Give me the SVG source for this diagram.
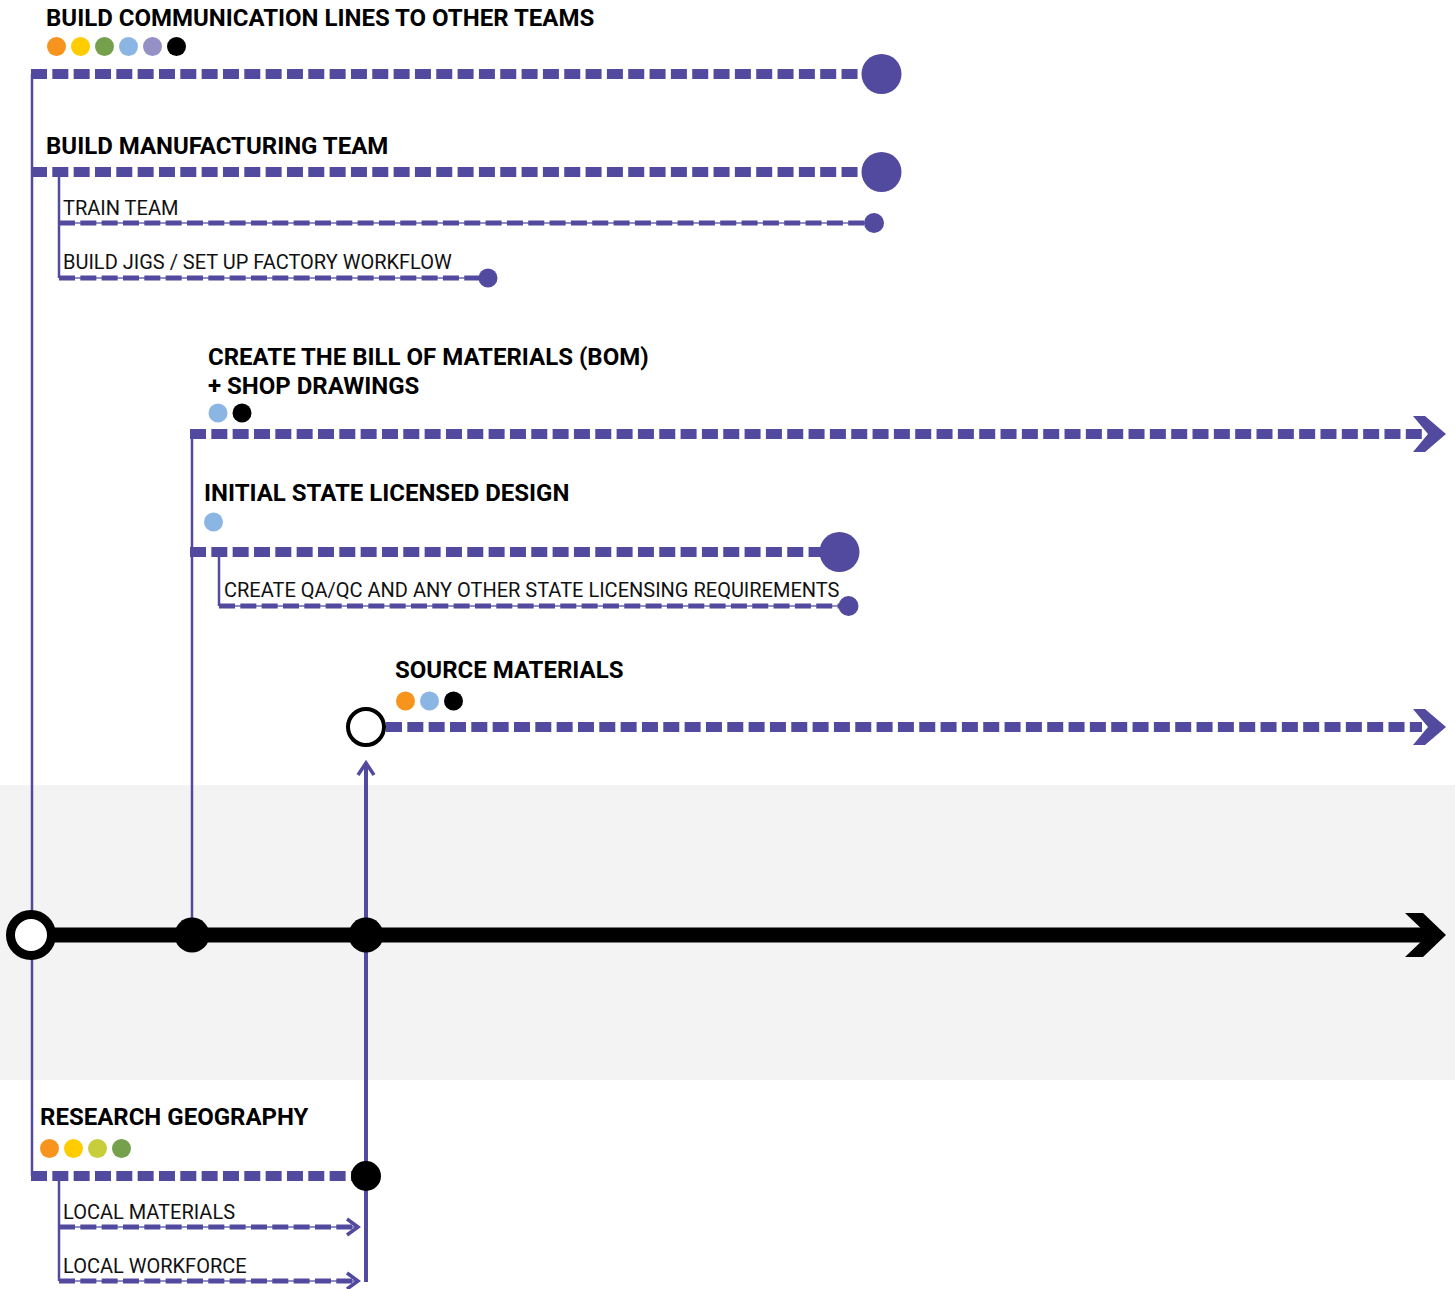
<svg xmlns="http://www.w3.org/2000/svg" width="1455" height="1289" viewBox="0 0 1455 1289">
<defs>
<style>
.h{font-family:Roboto,"Liberation Sans",sans-serif;font-weight:bold;font-size:24px;fill:#000}
.t{font-family:Roboto,"Liberation Sans",sans-serif;font-size:20px;fill:#111}
.big{stroke:#524A9E;stroke-width:10;stroke-dasharray:16 5.33;fill:none}
.thin{stroke:#524A9E;stroke-width:5;stroke-dasharray:16 5.33;fill:none}
.hair{stroke:#6E68B0;stroke-width:1.5;fill:none}
.v{stroke:#524A9E;stroke-width:2.5;fill:none}
.pf{fill:#524A9E}
.or{fill:#F7941D}.ye{fill:#FFCC00}.gr{fill:#76A04B}.lb{fill:#8BB6E3}.lv{fill:#9590C6}.bk{fill:#000}.yg{fill:#C8CE3A}
.chev{stroke:#524A9E;stroke-width:3.5;fill:none}
</style>
</defs>
<rect x="0" y="785" width="1455" height="295" fill="#F3F3F3"/>
<g id="connectors">
<line class="v" x1="32" y1="74" x2="32" y2="1176"/>
<line class="v" x1="59" y1="172" x2="59" y2="278"/>
<line class="v" x1="192" y1="434" x2="192" y2="935"/>
<line class="v" x1="219" y1="552" x2="219" y2="606"/>
<line class="v" x1="59" y1="1176" x2="59" y2="1281"/>
<line stroke="#524A9E" stroke-width="4" x1="366" y1="763" x2="366" y2="1282"/>
<polyline class="chev" points="358,775 366,763 374,775"/>
<line x1="31" y1="935" x2="1428" y2="935" stroke="#000" stroke-width="15"/>
<polygon points="1405,913 1423,913 1446,935 1423,957 1405,957 1428,935" fill="#000"/>
<line class="big" x1="31" y1="74" x2="862" y2="74"/>
<line class="big" x1="31" y1="172" x2="862" y2="172"/>
<line class="hair" x1="59" y1="223" x2="866" y2="223"/>
<line class="thin" x1="59" y1="223" x2="866" y2="223"/>
<line class="hair" x1="59" y1="278" x2="480" y2="278"/>
<line class="thin" x1="59" y1="278" x2="480" y2="278"/>
<line class="big" x1="190" y1="434" x2="1422" y2="434"/>
<polygon class="pf" points="1413,416 1425,416 1446,434 1425,452 1413,452 1428,434"/>
<line class="big" x1="190" y1="552" x2="822" y2="552"/>
<line class="hair" x1="219" y1="606" x2="842" y2="606"/>
<line class="thin" x1="219" y1="606" x2="842" y2="606"/>
<line class="big" x1="386" y1="727" x2="1422" y2="727"/>
<polygon class="pf" points="1413,709 1425,709 1446,727 1425,745 1413,745 1428,727"/>
<line class="big" x1="31" y1="1176" x2="352" y2="1176"/>
<line class="hair" x1="59" y1="1227" x2="359" y2="1227"/>
<line class="thin" x1="59" y1="1227" x2="356" y2="1227"/>
<polyline class="chev" points="347,1219 358,1227 347,1235"/>
<line class="hair" x1="59" y1="1281" x2="359" y2="1281"/>
<line class="thin" x1="59" y1="1281" x2="356" y2="1281"/>
<polyline class="chev" points="347,1273 358,1281 347,1289"/>
</g>
<g id="timeline-nodes">
<circle cx="31" cy="935" r="20.5" fill="#fff" stroke="#000" stroke-width="9"/>
<circle cx="192" cy="935" r="17.5" fill="#000"/>
<circle cx="366" cy="935" r="17.5" fill="#000"/>
</g>
<g id="node-comm">
<text class="h" x="46" y="26">BUILD COMMUNICATION LINES TO OTHER TEAMS</text>
<circle class="or" cx="56.5" cy="46.5" r="9.5"/><circle class="ye" cx="80.5" cy="46.5" r="9.5"/><circle class="gr" cx="104.5" cy="46.5" r="9.5"/><circle class="lb" cx="128.5" cy="46.5" r="9.5"/><circle class="lv" cx="152.5" cy="46.5" r="9.5"/><circle class="bk" cx="176.5" cy="46.5" r="9.5"/>
<circle class="pf" cx="881.5" cy="74" r="20"/>
</g>
<g id="node-mfg">
<text class="h" x="46" y="154">BUILD MANUFACTURING TEAM</text>
<circle class="pf" cx="881.5" cy="172" r="20"/>
</g>
<g id="node-train">
<text class="t" x="63" y="215">TRAIN TEAM</text>
<circle class="pf" cx="874" cy="223" r="10"/>
</g>
<g id="node-jigs">
<text class="t" x="63" y="269">BUILD JIGS / SET UP FACTORY WORKFLOW</text>
<circle class="pf" cx="488" cy="278" r="9.5"/>
</g>
<g id="node-bom">
<text class="h" x="208" y="365">CREATE THE BILL OF MATERIALS (BOM)</text>
<text class="h" x="208" y="394">+ SHOP DRAWINGS</text>
<circle class="lb" cx="218" cy="413" r="9.5"/><circle class="bk" cx="242" cy="413" r="9.5"/>
</g>
<g id="node-design">
<text class="h" x="204" y="501">INITIAL STATE LICENSED DESIGN</text>
<circle class="lb" cx="213.5" cy="522" r="9.5"/>
<circle class="pf" cx="839.5" cy="552" r="20"/>
</g>
<g id="node-qa">
<text class="t" x="224" y="597">CREATE QA/QC AND ANY OTHER STATE LICENSING REQUIREMENTS</text>
<circle class="pf" cx="848.5" cy="606" r="10"/>
</g>
<g id="node-source">
<text class="h" x="395" y="678">SOURCE MATERIALS</text>
<circle class="or" cx="405.5" cy="701" r="9.5"/><circle class="lb" cx="429.5" cy="701" r="9.5"/><circle class="bk" cx="453.5" cy="701" r="9.5"/>
<circle cx="366" cy="727" r="18" fill="#fff" stroke="#000" stroke-width="4"/>
</g>
<g id="node-geo">
<text class="h" x="40" y="1125">RESEARCH GEOGRAPHY</text>
<circle class="or" cx="49.5" cy="1148.5" r="9.5"/><circle class="ye" cx="73.5" cy="1148.5" r="9.5"/><circle class="yg" cx="97.5" cy="1148.5" r="9.5"/><circle class="gr" cx="121.5" cy="1148.5" r="9.5"/>
<circle cx="366" cy="1176" r="15" fill="#000"/>
</g>
<g id="node-localmat">
<text class="t" x="63" y="1219">LOCAL MATERIALS</text>
</g>
<g id="node-localwork">
<text class="t" x="63" y="1273">LOCAL WORKFORCE</text>
</g>
</svg>
